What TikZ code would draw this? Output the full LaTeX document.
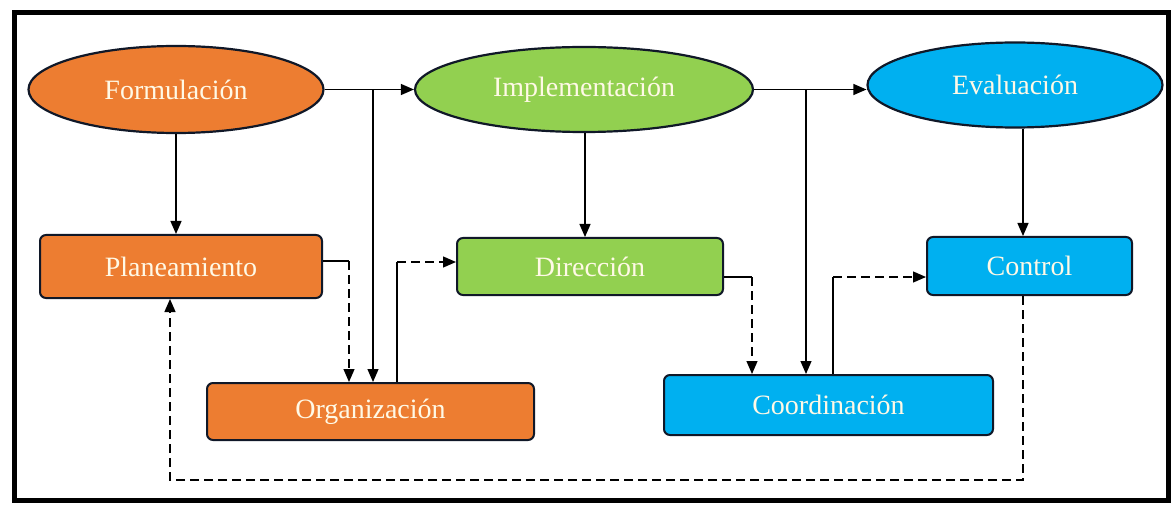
\documentclass[tikz,border=0pt]{standalone}
\usepackage{fontspec}
\setmainfont{Liberation Serif}
\usetikzlibrary{shapes.geometric,arrows.meta,calc}
\definecolor{cOrange}{HTML}{ED7D31}
\definecolor{cGreen}{HTML}{92D050}
\definecolor{cBlue}{HTML}{00B0F0}
\definecolor{cEdge}{HTML}{101828}
\definecolor{cText}{HTML}{FFF9E6}
\tikzset{
  phase/.style={ellipse, draw=cEdge, line width=2.2pt, text=cText,
    font=\fontsize{28}{30}\selectfont, inner sep=0pt},
  stepbox/.style={rectangle, rounded corners=6pt, draw=cEdge, line width=2pt,
    text=cText, font=\fontsize{28}{30}\selectfont, inner sep=0pt},
  link/.style={line width=1.3pt, draw=black},
  arr/.style={link, -{Triangle[length=13pt,width=11pt]}},
  dashlink/.style={link, dash pattern=on 9pt off 5pt},
  dasharr/.style={dashlink, -{Triangle[length=13pt,width=11pt]}}
}
\begin{document}
\begin{tikzpicture}[x=1pt,y=-1pt]
  \fill[white] (0,0) rectangle (1173,505);
  \useasboundingbox (0,0) rectangle (1173,505);
  \draw[line width=5pt] (14,12.5) rectangle (1168,500);

  % phases
  \node[phase, fill=cOrange, minimum width=295pt, minimum height=87pt] (form) at (176,89.5) {Formulación};
  \node[phase, fill=cGreen, minimum width=338pt, minimum height=85pt] (impl) at (584,89.5) {Implementación};
  \node[phase, fill=cBlue, minimum width=295pt, minimum height=85pt] (eval) at (1015,85) {Evaluación};

  % steps
  \node[stepbox, fill=cOrange, minimum width=282pt, minimum height=63pt] (plan) at (181,266.5) {Planeamiento};
  \node[stepbox, fill=cOrange, minimum width=327pt, minimum height=57pt] (org) at (370.5,411.5) {Organización};
  \node[stepbox, fill=cGreen, minimum width=266pt, minimum height=57pt] (dir) at (590,266.5) {Dirección};
  \node[stepbox, fill=cBlue, minimum width=329pt, minimum height=60pt] (coord) at (828.5,405) {Coordinación};
  \node[stepbox, fill=cBlue, minimum width=205pt, minimum height=58pt] (ctrl) at (1029.5,266) {Control};

  % bend and branch points
  \coordinate (j1) at (373,89.5);
  \coordinate (j2) at (806,89.5);
  \coordinate (pe) at (349,261);
  \coordinate (ou) at (397,262);
  \coordinate (de) at (752,277);
  \coordinate (cu) at (833,277);
  \coordinate (ed) at (1023,85);
  \coordinate (lb) at (1023,480);
  \coordinate (rb) at (170,480);

  % main flow
  \draw[arr] (form.south) -- (form.south |- plan.north);
  \draw[arr] (form.east) -- (impl.west);
  \draw[arr] (impl.east) -- (impl.east -| eval.west);
  \draw[arr] (j1) -- (j1 |- org.north);
  \draw[arr] ($(impl.south)+(1,0)$) -- ($(impl.south |- dir.north)+(1,0)$);
  \draw[arr] (j2) -- (j2 |- coord.north);
  \draw[arr] (ed |- eval.south) -- (ed |- ctrl.north);

  % step sequence
  \draw[link] (pe -| plan.east) -- (pe);
  \draw[dasharr] (pe) -- (pe |- org.north);
  \draw[link] (ou |- org.north) -- (ou);
  \draw[dasharr] (ou) -- (ou -| dir.west);
  \draw[link] (de -| dir.east) -- (de);
  \draw[dasharr] (de) -- (de |- coord.north);
  \draw[link] (cu |- coord.north) -- (cu);
  \draw[dasharr] (cu) -- (cu -| ctrl.west);

  % feedback loop
  \draw[dasharr] (lb |- ctrl.south) -- (lb) -- (rb) -- (rb |- plan.south);
\end{tikzpicture}
\end{document}
